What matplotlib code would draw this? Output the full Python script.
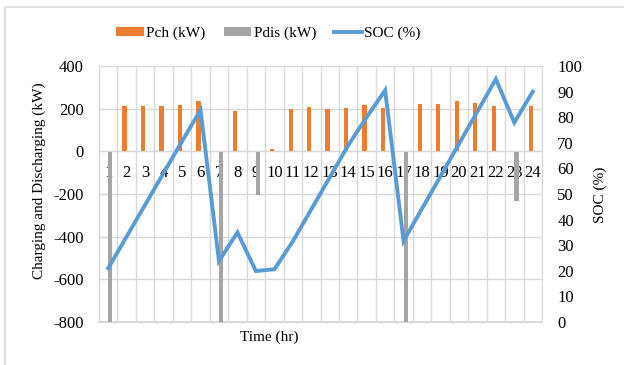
import numpy as np
import matplotlib
matplotlib.use('Agg')
import matplotlib.pyplot as plt
from matplotlib.patches import Rectangle

plt.rcParams['font.family'] = ['Liberation Serif', 'DejaVu Serif']
plt.rcParams['font.size'] = 11
plt.rcParams['axes.unicode_minus'] = False

# hourly schedule
hours = list(range(1, 25))
pch = [0, 212, 212, 212, 217, 236, 0, 190, 0, 10, 197, 208,
       200, 201, 217, 205, 0, 220, 220, 234, 225, 214, 0, 212]
pdis = [-800, 0, 0, 0, 0, 0, -800, 0, -205, 0, 0, 0,
        0, 0, 0, 0, -800, 0, 0, 0, 0, 0, -232, 0]
soc = [21.0, 33.4, 45.8, 58.2, 70.6, 82.8, 23.8, 35.0, 19.9, 20.6, 31.5, 44.0,
       56.5, 69.0, 80.0, 90.5, 31.6, 44.3, 56.9, 69.6, 82.2, 94.9, 77.9, 90.0]

ORANGE = '#ED7D31'
GREY = '#A5A5A5'
BLUE = '#5B9BD5'
GRID = '#D9D9D9'

W, H = 624, 365
fig = plt.figure(figsize=(W / 100, H / 100), dpi=100)
ax = fig.add_axes([99 / W, 1 - 322 / H, 443 / W, 256 / H])

x = np.arange(len(hours))
bw = 0.23
b1 = ax.bar(x - bw / 2, pch, bw, color=ORANGE, zorder=2, label='Pch (kW)')
b2 = ax.bar(x + bw / 2, pdis, bw, color=GREY, zorder=2, label='Pdis (kW)')

ax.set_xlim(-0.5, len(hours) - 0.5)
ax.set_ylim(-800, 400)
ax.set_yticks(np.arange(-800, 401, 200))

# category boundaries as vertical grid
ax.set_xticks(np.arange(-0.5, len(hours), 1), minor=True)
ax.grid(which='minor', axis='x', color=GRID, lw=1, zorder=0)
ax.grid(which='major', axis='y', color=GRID, lw=1, zorder=0)
ax.tick_params(which='minor', length=0)

# hour labels sit under the zero line
ax.set_xticks(x)
ax.set_xticklabels([str(h) for h in hours])
ax.spines['bottom'].set_position(('data', 0))
ax.spines['bottom'].set_color(GRID)
ax.axhline(-800, color=GRID, lw=1.5, clip_on=False, zorder=1)
for s in ['left', 'right', 'top']:
    ax.spines[s].set_color(GRID)
ax.tick_params(axis='x', length=0, pad=10, labelsize=12)
ax.tick_params(axis='y', length=0, pad=11, labelsize=12)

ax2 = ax.twinx()
ln, = ax2.plot(x, soc, color=BLUE, lw=2.8, solid_joinstyle='miter', label='SOC (%)')
ax2.set_ylim(0, 100)
ax2.set_yticks(np.arange(0, 101, 10))
ax2.tick_params(axis='y', length=0, pad=11, labelsize=12)
for s in ax2.spines.values():
    s.set_visible(False)

fig.text(39 / W, 1 - 181 / H, 'Charging and Discharging (kW)', rotation=90,
         ha='center', va='center')
fig.text(600 / W, 1 - 195 / H, 'SOC (%)', rotation=90, ha='center', va='center')
fig.text(269.5 / W, 1 - 337 / H, 'Time (hr)', ha='center', va='center')

fig.legend(handles=[b1, b2, ln], loc='center', bbox_to_anchor=(268.5 / W, 1 - 33 / H),
           ncol=3, frameon=False, handlelength=1.8, handleheight=0.55,
           handletextpad=0.15, columnspacing=1.2)

# chart area border
fig.add_artist(Rectangle((5 / W, -0.1), 1.2, 1.1 - 7 / H, transform=fig.transFigure,
                         fill=False, edgecolor='#DDDDDD', lw=1.2))

fig.savefig('out.png', dpi=100)
